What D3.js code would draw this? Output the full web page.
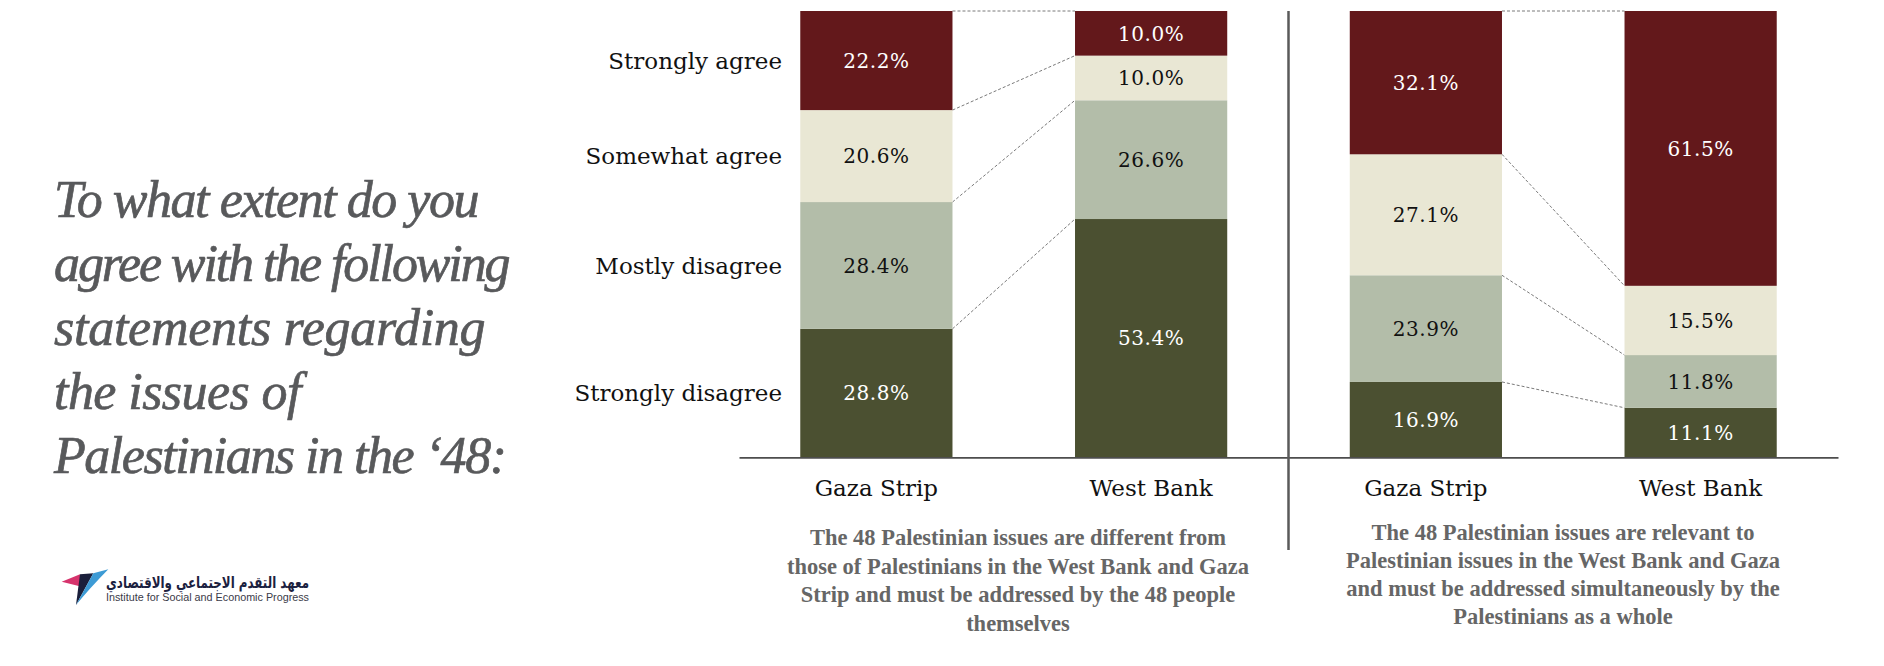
<!DOCTYPE html>
<html>
<head>
<meta charset="utf-8">
<script src="https://cdn.jsdelivr.net/npm/d3@7"></script>
<style>
  html, body { margin: 0; padding: 0; background: #ffffff; }
  svg { display: block; }
</style>
</head>
<body>
<svg id="chart" width="1884" height="666"></svg>
<script>
// ---------------- DATA ----------------
const categories = ["Strongly disagree", "Mostly disagree", "Somewhat agree", "Strongly agree"];
const regions = ["Gaza Strip", "West Bank"];

// Statement 1: issues are different ... addressed by the 48 people themselves
const differentGaza = [28.8, 28.4, 20.6, 22.2];
const differentWestBank = [53.4, 26.6, 10.0, 10.0];

// Statement 2: issues are relevant ... addressed simultaneously by Palestinians as a whole
const relevantGaza = [16.9, 23.9, 27.1, 32.1];
const relevantWestBank = [11.1, 11.8, 15.5, 61.5];

const captionDifferent = [
  "The 48 Palestinian issues are different from",
  "those of Palestinians in the West Bank and Gaza",
  "Strip and must be addressed by the 48 people",
  "themselves"
];
const captionRelevant = [
  "The 48 Palestinian issues are relevant to",
  "Palestinian issues in the West Bank and Gaza",
  "and must be addressed simultaneously by the",
  "Palestinians as a whole"
];
const titleLines = [
  "To what extent do you",
  "agree with the following",
  "statements regarding",
  "the issues of",
  "Palestinians in the \u201848:"
];
const logoArabic = "معهد التقدم الاجتماعي والاقتصادي";
const logoEnglish = "Institute for Social and Economic Progress";

// ---------------- STYLE ----------------
const segColors = ["#4B5031", "#B3BDA9", "#E9E7D4", "#63181B"];
const labelColors = ["#ffffff", "#111111", "#111111", "#ffffff"];
const titleWidths = [425.5, 456.6, 431.6, 247.5, 453];

const svg = d3.select("#chart");

const y = d3.scaleLinear().domain([0, 1]).range([457.4, 11]);

function buildRows(gaza, westBank) {
  return regions.map((r, i) => {
    const vals = i === 0 ? gaza : westBank;
    const row = { region: r };
    categories.forEach((c, j) => row[c] = vals[j]);
    return row;
  });
}

const stack = d3.stack().keys(categories).offset(d3.stackOffsetExpand);

const panels = [
  { rows: buildRows(differentGaza, differentWestBank), x0: 739, x1: 1288.5, caption: captionDifferent, capX: 1018, capY: 545, capStep: 28.7 },
  { rows: buildRows(relevantGaza, relevantWestBank), x0: 1288.5, x1: 1838, caption: captionRelevant, capX: 1563, capY: 539.5, capStep: 28.3 }
];

panels.forEach((p, pi) => {
  const g = svg.append("g");
  const x = d3.scaleBand().domain(regions).range([p.x0, p.x1]).paddingInner(0.446).paddingOuter(0.223);
  const series = stack(p.rows);
  const bw = x.bandwidth();

  // connector dashed lines between bars
  const boundaries = series.map(s => ({ a: s[0][1], b: s[1][1] }));
  g.selectAll("line.conn").data(boundaries).join("line")
    .attr("class", "conn")
    .attr("x1", x(regions[0]) + bw)
    .attr("x2", x(regions[1]))
    .attr("y1", d => y(d.a))
    .attr("y2", d => y(d.b))
    .attr("stroke", "#7a7a7a")
    .attr("stroke-width", 1)
    .attr("stroke-dasharray", "3,2");

  // bars
  const layers = g.selectAll("g.layer").data(series).join("g")
    .attr("class", "layer")
    .attr("fill", (d, i) => segColors[i]);
  layers.selectAll("rect").data(d => d).join("rect")
    .attr("x", d => x(d.data.region))
    .attr("width", bw)
    .attr("y", d => y(d[1]))
    .attr("height", d => y(d[0]) - y(d[1]));

  // value labels
  series.forEach((s, si) => {
    g.selectAll(null).data(s).join("text")
      .attr("x", d => x(d.data.region) + bw / 2)
      .attr("y", d => (y(d[0]) + y(d[1])) / 2)
      .attr("dy", "0.36em")
      .attr("text-anchor", "middle")
      .attr("font-family", "'DejaVu Serif', serif")
      .attr("font-size", 20)
      .attr("letter-spacing", 0.5)
      .attr("fill", labelColors[si])
      .text(d => d.data[s.key].toFixed(1) + "%");
  });

  // x axis
  const axis = g.append("g")
    .attr("transform", `translate(0,${y(0)})`)
    .call(d3.axisBottom(x).tickSize(0).tickSizeOuter(0));
  axis.select(".domain").attr("stroke", "#4d4d4d").attr("stroke-width", 1.6);
  axis.selectAll(".tick text")
    .attr("y", 38.6)
    .attr("dy", 0)
    .attr("font-family", "'DejaVu Serif', serif")
    .attr("font-size", 23)
    .attr("fill", "#111");

  // caption
  g.append("text")
    .attr("text-anchor", "middle")
    .attr("font-family", "'Liberation Serif', 'Times New Roman', serif")
    .attr("font-weight", "bold")
    .attr("font-size", 22.5)
    .attr("fill", "#666666")
    .selectAll("tspan").data(p.caption).join("tspan")
    .attr("x", p.capX)
    .attr("y", (d, i) => p.capY + i * p.capStep)
    .text(d => d);

  // category labels (left panel only)
  if (pi === 0) {
    const gaza = series.map(s => s[0]);
    g.selectAll("text.cat").data(gaza).join("text")
      .attr("class", "cat")
      .attr("x", 782)
      .attr("y", d => (y(d[0]) + y(d[1])) / 2)
      .attr("dy", "0.36em")
      .attr("text-anchor", "end")
      .attr("font-family", "'DejaVu Serif', serif")
      .attr("font-size", 23)
      .attr("fill", "#111")
      .text((d, i) => categories[i]);
  }
});

// separator line
svg.append("line")
  .attr("x1", 1288.5).attr("x2", 1288.5)
  .attr("y1", 11).attr("y2", 550)
  .attr("stroke", "#5a5a5a").attr("stroke-width", 2.5);

// title
svg.append("g").selectAll("text").data(titleLines).join("text")
  .attr("x", 54)
  .attr("y", (d, i) => 216.6 + i * 64.2)
  .attr("font-family", "'Liberation Serif', 'Times New Roman', serif")
  .attr("font-style", "italic")
  .attr("font-size", 52)
  .attr("fill", "#58595B")
  .attr("stroke", "#58595B")
  .attr("stroke-width", 0.7)
  .attr("textLength", (d, i) => titleWidths[i])
  .attr("lengthAdjust", "spacing")
  .text(d => d);

// logo
const logo = svg.append("g");
logo.append("path").attr("d", "M61.7,581.7 L80,574.3 L81.7,586.7 Z").attr("fill", "#D6336C");
logo.append("path").attr("d", "M80,574.3 L93.3,573.3 L76,605 Z").attr("fill", "#1B1F3B");
logo.append("path").attr("d", "M93.3,573.3 L108.3,569.3 Q90,588 76,605 Z").attr("fill", "#3D9BD5");
logo.append("text")
  .attr("x", 309).attr("y", 588)
  .attr("font-family", "'DejaVu Sans', sans-serif")
  .attr("font-weight", "bold")
  .attr("font-size", 16)
  .attr("fill", "#1B2140")
  .attr("textLength", 203)
  .attr("lengthAdjust", "spacingAndGlyphs")
  .attr("direction", "rtl")
  .attr("text-anchor", "start")
  .text(logoArabic);
logo.append("text")
  .attr("x", 106).attr("y", 600.5)
  .attr("font-family", "'Liberation Sans Narrow', 'Liberation Sans', sans-serif")
  .attr("font-size", 11)
  .attr("fill", "#3a3a48")
  .attr("textLength", 203)
  .attr("lengthAdjust", "spacingAndGlyphs")
  .text(logoEnglish);
</script>
</body>
</html>
